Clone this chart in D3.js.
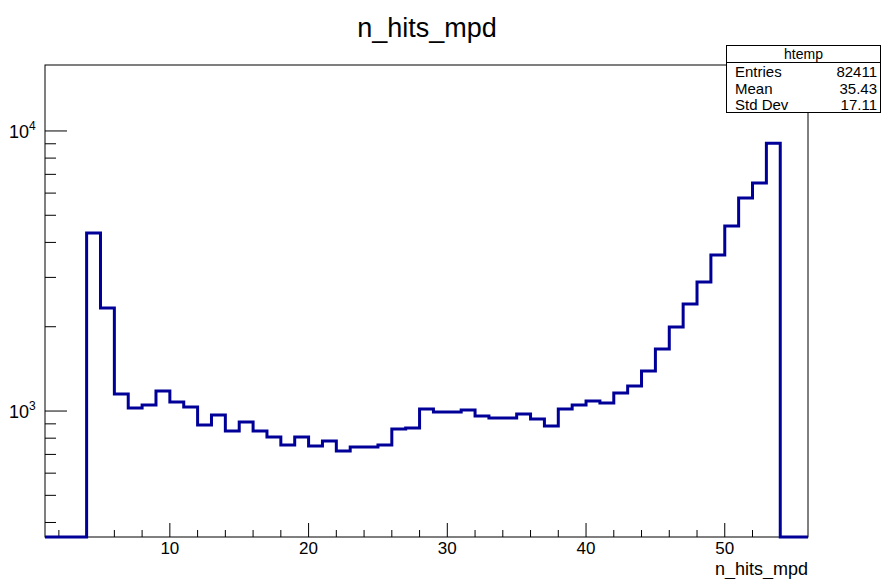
<!DOCTYPE html>
<html>
<head>
<meta charset="utf-8">
<script src="https://cdn.jsdelivr.net/npm/d3@7"></script>
<style>
  body { margin: 0; background: #fff; }
  svg { display: block; font-family: "Liberation Sans", Arial, Helvetica, sans-serif; }
</style>
</head>
<body>
<svg id="chart" width="882" height="579"></svg>
<script>
const width = 882;
const height = 579;

// histogram: 55 bins of width 1, from 1 to 56
const binLow = 1;
const binHigh = 56;
const counts = [
    0, 0, 0, 4325, 2333, 1150, 1025, 1050, 1178, 1077,
    1033, 891, 968, 848, 913, 848, 807, 756, 807, 750,
    781, 720, 744, 744, 756, 862, 869, 1017, 992, 992,
    1008, 960, 944, 944, 976, 936, 884, 1017, 1050, 1085,
    1068, 1160, 1228, 1390, 1665, 1995, 2410, 2890, 3607, 4580,
    5760, 6520, 9040, 0, 0
];

const xMajor = [10, 20, 30, 40, 50];
const xMinor = [2, 4, 6, 8, 12, 14, 16, 18, 22, 24, 26, 28, 32, 34, 36, 38, 42, 44, 46, 48, 52, 54];
const yMajor = [1000, 10000];
const yMinor = [400, 500, 600, 700, 800, 900, 2000, 3000, 4000, 5000, 6000, 7000, 8000, 9000];

const statNames = ["Entries", "Mean", "Std Dev"];
const statValues = ["82411", "35.43", "17.11"];

const frame = {left: 45, right: 808, top: 65, bottom: 537};

const svg = d3.select("#chart");

const x = d3.scaleLinear()
    .domain([binLow, binHigh])
    .range([frame.left, frame.right]);

const y = d3.scaleLog()
    .domain([355, 17200])
    .range([frame.bottom, frame.top])
    .clamp(true);

// frame
svg.append("rect")
    .attr("x", frame.left)
    .attr("y", frame.top)
    .attr("width", frame.right - frame.left)
    .attr("height", frame.bottom - frame.top)
    .attr("fill", "none")
    .attr("stroke", "#000")
    .attr("stroke-width", 1);

// x axis ticks (pointing up into the frame)
const xAxis = svg.append("g").attr("class", "x-axis");
xAxis.selectAll(".major")
    .data(xMajor)
    .enter().append("line")
    .attr("x1", d => x(d)).attr("x2", d => x(d))
    .attr("y1", frame.bottom).attr("y2", frame.bottom - 14)
    .attr("stroke", "#000");
xAxis.selectAll(".minor")
    .data(xMinor)
    .enter().append("line")
    .attr("x1", d => x(d)).attr("x2", d => x(d))
    .attr("y1", frame.bottom).attr("y2", frame.bottom - 7)
    .attr("stroke", "#000");
xAxis.selectAll("text")
    .data(xMajor)
    .enter().append("text")
    .attr("x", d => x(d))
    .attr("y", frame.bottom + 17)
    .attr("text-anchor", "middle")
    .attr("font-size", "17px")
    .text(d => d);

// y axis ticks
const yAxis = svg.append("g").attr("class", "y-axis");
yAxis.selectAll(".major")
    .data(yMajor)
    .enter().append("line")
    .attr("x1", frame.left).attr("x2", frame.left + 22)
    .attr("y1", d => y(d)).attr("y2", d => y(d))
    .attr("stroke", "#000");
yAxis.selectAll(".minor")
    .data(yMinor)
    .enter().append("line")
    .attr("x1", frame.left).attr("x2", frame.left + 11)
    .attr("y1", d => y(d)).attr("y2", d => y(d))
    .attr("stroke", "#000");

const yLabels = yAxis.selectAll("text")
    .data(yMajor)
    .enter().append("text")
    .attr("x", 9)
    .attr("y", d => y(d) + 7)
    .attr("font-size", "18px");
yLabels.append("tspan").text("10");
yLabels.append("tspan")
    .attr("dy", -8)
    .attr("font-size", "12px")
    .text(d => Math.round(Math.log10(d)));

// histogram outline
const pts = counts.map((c, i) => [binLow + i, c]);
pts.push([binHigh, counts[counts.length - 1]]);

const line = d3.line()
    .x(d => x(d[0]))
    .y(d => y(Math.max(d[1], 1)))
    .curve(d3.curveStepAfter);

svg.append("path")
    .datum(pts)
    .attr("d", line)
    .attr("fill", "none")
    .attr("stroke", "#000099")
    .attr("stroke-width", 3);

// titles
svg.append("text")
    .attr("x", 427)
    .attr("y", 37)
    .attr("text-anchor", "middle")
    .attr("font-size", "27px")
    .text("n_hits_mpd");

svg.append("text")
    .attr("x", frame.right)
    .attr("y", 575)
    .attr("text-anchor", "end")
    .attr("font-size", "18px")
    .text("n_hits_mpd");

// stats box
const stats = svg.append("g").attr("class", "stats");
stats.append("rect")
    .attr("x", 726.5).attr("y", 45.5)
    .attr("width", 154).attr("height", 67)
    .attr("fill", "#fff")
    .attr("stroke", "#000");
stats.append("line")
    .attr("x1", 726.5).attr("x2", 880.5)
    .attr("y1", 62.5).attr("y2", 62.5)
    .attr("stroke", "#000");
stats.append("text")
    .attr("x", 803.5).attr("y", 59)
    .attr("text-anchor", "middle")
    .attr("font-size", "14px")
    .text("htemp");
stats.selectAll(".name")
    .data(statNames)
    .enter().append("text")
    .attr("x", 735)
    .attr("y", (d, i) => 77 + i * 16.5)
    .attr("font-size", "15px")
    .text(d => d);
stats.selectAll(".val")
    .data(statValues)
    .enter().append("text")
    .attr("x", 877)
    .attr("y", (d, i) => 77 + i * 16.5)
    .attr("text-anchor", "end")
    .attr("font-size", "15px")
    .text(d => d);
</script>
</body>
</html>
